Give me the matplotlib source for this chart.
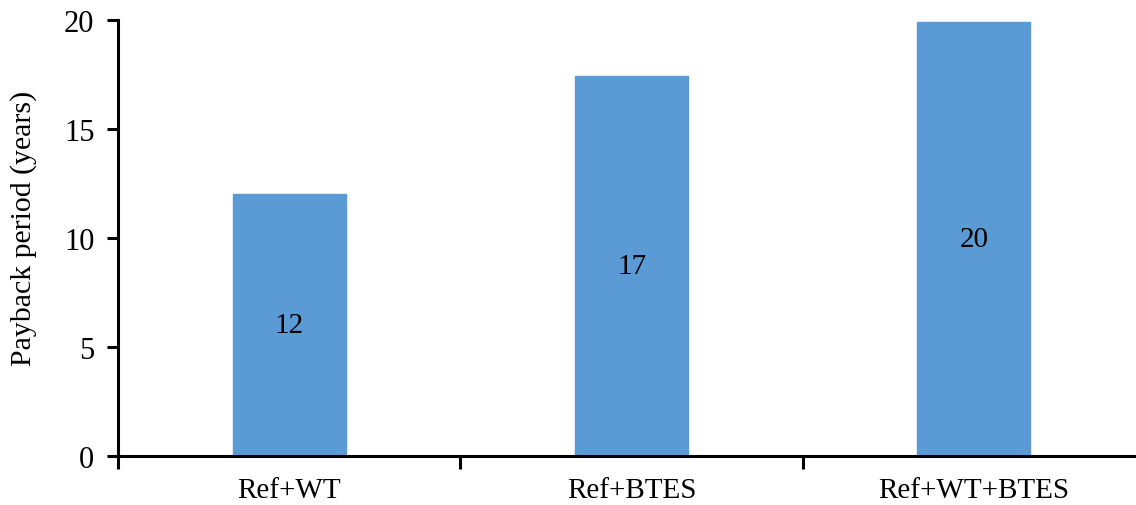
import matplotlib
matplotlib.use("Agg")
import matplotlib.pyplot as plt
import numpy as np

categories = ["Ref+WT", "Ref+BTES", "Ref+WT+BTES"]
payback_years = [12.0, 17.45, 19.9]
y_ticks = [0, 5, 10, 15, 20]

plt.rcParams["font.family"] = ["Liberation Serif", "DejaVu Serif"]

fig = plt.figure(figsize=(11.36, 5.06), dpi=100)
ax = fig.add_axes([118 / 1136, 49 / 506, (1145 - 118) / 1136, (457 - 21) / 506])

x = np.arange(len(categories))
bars = ax.bar(x, payback_years, width=0.33, color="#5B9BD5", edgecolor="#5B9BD5", zorder=2)

for xi, v in zip(x, payback_years):
    ax.text(xi, v / 2, f"{v:.0f}", ha="center", va="center", fontsize=21, color="black")

ax.set_xlim(-0.5, len(categories) - 0.5)
ax.set_ylim(0, 20)
ax.set_yticks(y_ticks)
ax.set_yticklabels([str(t) for t in y_ticks], fontsize=22)

# category labels centred under the bars, tick marks between categories
ax.set_xticks(x)
ax.set_xticklabels(categories, fontsize=21)
ax.tick_params(axis="x", which="major", length=0, pad=15)
ax.set_xticks(np.arange(-0.5, len(categories)), minor=True)
ax.tick_params(axis="x", which="minor", length=9, width=2.2, direction="out")
ax.tick_params(axis="y", length=8, width=2.2, direction="out", pad=9)

for side in ["top", "right"]:
    ax.spines[side].set_visible(False)
for side in ["left", "bottom"]:
    ax.spines[side].set_linewidth(2.2)

ax.set_ylabel("Payback period (years)", fontsize=21.5)
ax.yaxis.set_label_coords(-0.079, 0.525)

fig.savefig("out.png", dpi=100)
